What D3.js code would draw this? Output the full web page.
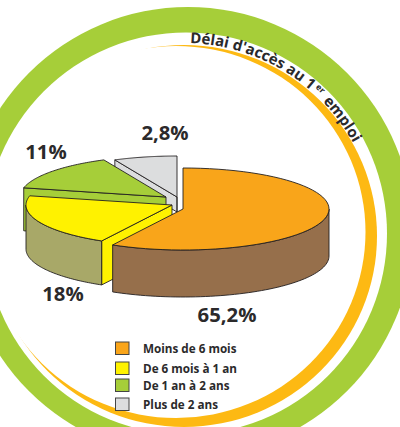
<!DOCTYPE html>
<html><head><meta charset="utf-8">
<script src="https://cdn.jsdelivr.net/npm/d3@7"></script>
<style>html,body{margin:0;padding:0;background:#fff}svg{display:block}text{font-family:"Open Sans",sans-serif;font-weight:700;fill:#2b2a2b}</style>
</head><body><div id="c"></div>
<script>
const categories = ["Moins de 6 mois","De 6 mois à 1 an","De 1 an à 2 ans","Plus de 2 ans"];
const printedValues = ["65,2%","18%","11%","2,8%"];
// shares as actually drawn in the picture (the artwork's sectors differ from the printed figures)
const drawnShares = [58,20.6,14.4,7];
const topColors = ["#F9A51A","#FFF200","#A6CE39","#DCDDDE"];
const sideColors = ["#966F4B","#A8A868","#A6CE39","#DCDDDE"];
const faceColors = [null,"#FFF200","#A6CE39","#DCDDDE"];

const W=400,H=427;
const svg=d3.select("#c").append("svg").attr("width",W).attr("height",H);
const ink="#231F20";

// decorative rings
const ring=(cx,cy,rx,ry,c)=>svg.append("ellipse").attr("cx",cx).attr("cy",cy).attr("rx",rx).attr("ry",ry).attr("fill",c);
ring(188,232,225,225,"#A6CE39");
ring(186,233.5,201,201,"#fff");
ring(184,236,193,191,"#FDB913");
ring(176,232,189.5,186,"#fff");

// pie
const rx=146,ry=41;
const layout=[
 {cx:183,cy:209,d:47},
 {cx:172,cy:205,d:44},
 {cx:166,cy:197,d:43},
 {cx:177,cy:197,d:15}];
const arcs=d3.pie().sort(null).value(d=>d)(drawnShares);
const X=d3.scaleLinear().domain([-1,1]).range([-rx,rx]);
const Y=d3.scaleLinear().domain([-1,1]).range([-ry,ry]);
const pt=(l,a,dz=0)=>[l.cx+X(Math.sin(a)),l.cy+Y(-Math.cos(a))+dz];
const rim=(l,a0,a1,dz=0)=>d3.range(0,61).map(i=>pt(l,a0+(a1-a0)*i/60,dz));
const line=d3.line();
const order=[3,2,1,0];
order.forEach(i=>{
  const l=layout[i],a=arcs[i],c=[l.cx,l.cy];
  const g=svg.append("g");
  const style=(p,f)=>p.attr("fill",f).attr("stroke",ink).attr("stroke-width",0.9).attr("stroke-linejoin","round");
  // cut face along the sector's first edge
  if(faceColors[i]){
    const e=pt(l,a.startAngle);
    style(g.append("path").attr("d",line([c,e,[e[0],e[1]+l.d],[c[0],c[1]+l.d]])+"Z"),faceColors[i]);
  }
  // outer wall: front half of the ellipse only
  const s=Math.max(a.startAngle,Math.PI/2),t=Math.min(a.endAngle,3*Math.PI/2);
  if(t>s){
    const top=rim(l,s,t),bot=rim(l,t,s,l.d);
    style(g.append("path").attr("d",line(top.concat(bot))+"Z"),sideColors[i]);
  }
  if(i===3){ // vertical wall of the grey sector, seen edge-on
    style(g.append("path").attr("d",line([c,[c[0],c[1]+l.d]])),"none");
  }
  style(g.append("path").attr("d",line([c].concat(rim(l,a.startAngle,a.endAngle)))+"Z"),topColors[i]);
});

// value labels
const labelPos=[[227,322],[63,301],[46,159],[165,140]];
printedValues.forEach((v,i)=>svg.append("text").attr("x",labelPos[i][0]).attr("y",labelPos[i][1])
  .attr("text-anchor","middle").attr("font-size",20.3).text(v));

// legend
const legendY=[342,362,379,398];
categories.forEach((c,i)=>{
  svg.append("rect").attr("x",115.5).attr("y",legendY[i]).attr("width",13.5).attr("height",12.5)
    .attr("fill",topColors[i]).attr("stroke","#444").attr("stroke-width",1);
  svg.append("text").attr("x",143).attr("y",legendY[i]+11).attr("font-size",11.7).text(c);
});

// curved title
const R=193,cx=184,cy=236;
svg.append("path").attr("id","tp").attr("fill","none")
  .attr("d",`M${cx},${cy-R} A${R},${R} 0 0 1 ${cx+R},${cy}`);
const t=svg.append("text").attr("font-size",15).append("textPath").attr("href","#tp").attr("startOffset",6);
t.append("tspan").text("Délai d'accès au 1");
t.append("tspan").attr("font-size",8.5).attr("dy",-5).attr("dx",2).text("er");
t.append("tspan").attr("dy",5).attr("dx",2).text(" emploi");
</script></body></html>
